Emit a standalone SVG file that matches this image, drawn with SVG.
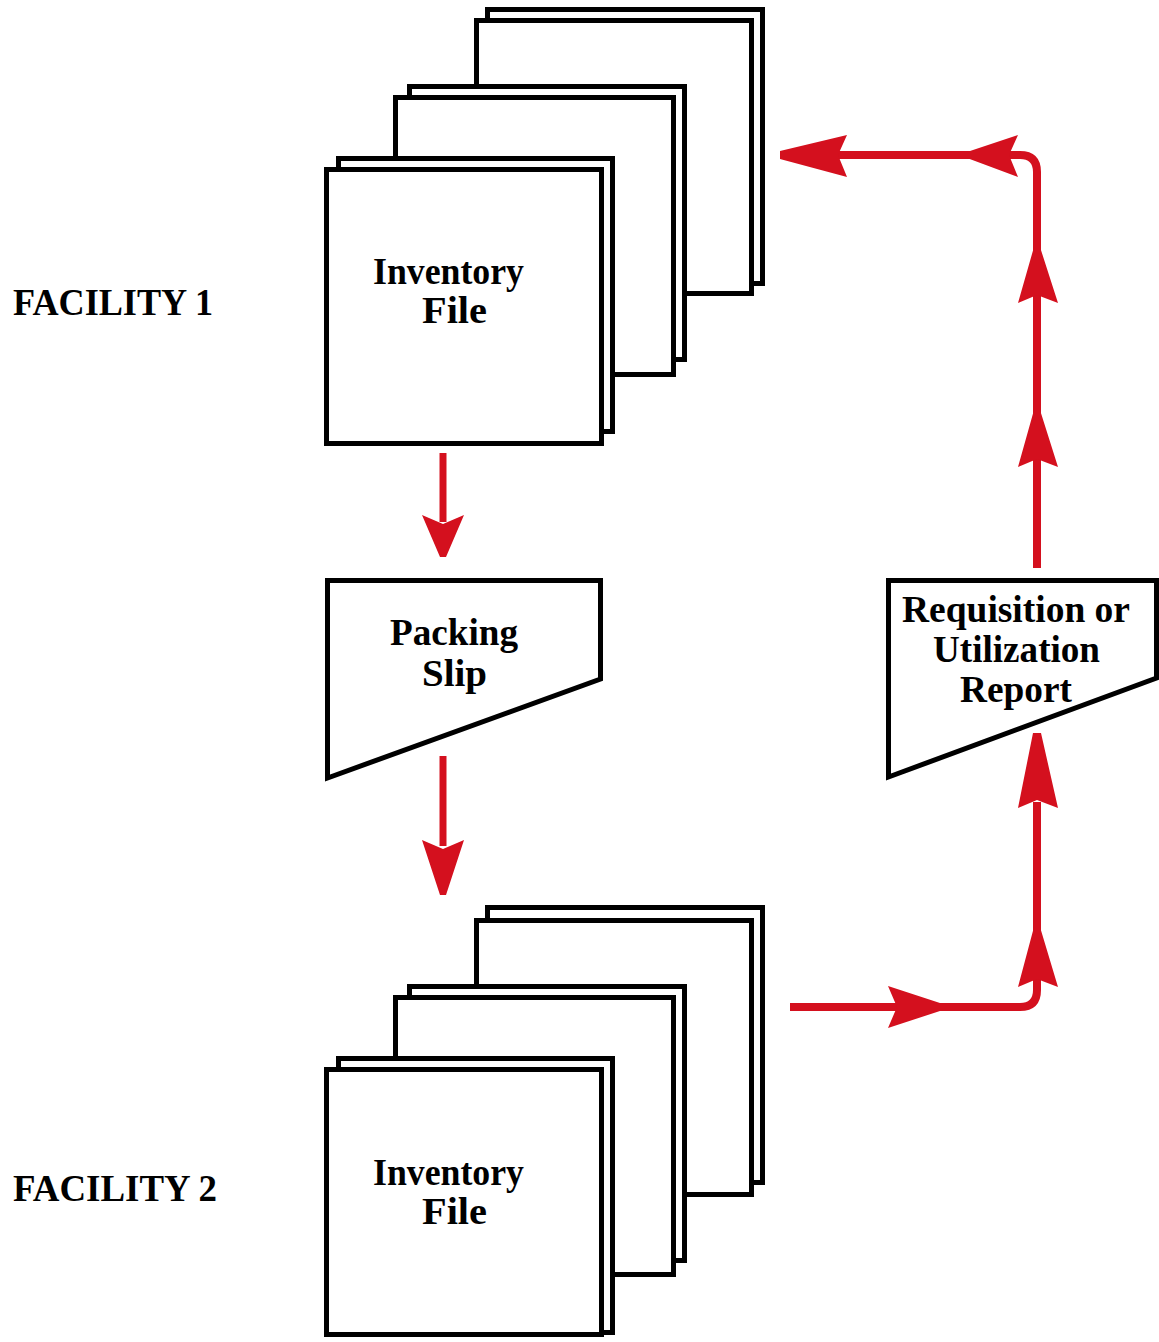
<svg xmlns="http://www.w3.org/2000/svg" width="1159" height="1342" viewBox="0 0 1159 1342">
  <style>
    .sheet { fill: #ffffff; stroke: #000000; stroke-width: 5; stroke-linejoin: miter; }
    .doc { fill: #ffffff; stroke: #000000; stroke-width: 5; stroke-linejoin: miter; }
    .lbl { font-family: "Liberation Serif", "Times New Roman", serif; font-weight: bold; font-size: 38px; fill: #000000; }
    .flow { fill: none; stroke: #d4101e; stroke-width: 8; stroke-linecap: butt; stroke-linejoin: round; }
    .flow-thin { fill: none; stroke: #d4101e; stroke-width: 7; stroke-linecap: butt; }
    .head { fill: #d4101e; stroke: none; }
  </style>

  <rect width="1159" height="1342" fill="#ffffff"/>

  <!-- side labels -->
  <g id="facility-1-label">
    <text class="lbl" x="13" y="315" textLength="200" lengthAdjust="spacingAndGlyphs">FACILITY 1</text>
  </g>
  <g id="facility-2-label">
    <text class="lbl" x="13" y="1201" textLength="204" lengthAdjust="spacingAndGlyphs">FACILITY 2</text>
  </g>

  <!-- Facility 1 inventory file: three stacked double sheets -->
  <g id="inventory-file-1">
    <rect class="sheet" x="487.5" y="9.5" width="275" height="274"/>
    <rect class="sheet" x="476.5" y="20.5" width="275" height="273"/>
    <rect class="sheet" x="409.5" y="86.5" width="275" height="273"/>
    <rect class="sheet" x="395.5" y="97.5" width="278" height="277"/>
    <rect class="sheet" x="338.5" y="158.5" width="274" height="273"/>
    <rect class="sheet" x="326.5" y="169.5" width="275" height="274"/>
    <text class="lbl" x="373" y="284" textLength="151" lengthAdjust="spacingAndGlyphs">Inventory</text>
    <text class="lbl" x="422" y="323" textLength="65" lengthAdjust="spacingAndGlyphs">File</text>
  </g>

  <!-- packing slip document -->
  <g id="packing-slip">
    <polygon class="doc" points="327.5,580.5 600.5,580.5 600.5,679 327.5,778"/>
    <text class="lbl" x="390" y="645" textLength="128" lengthAdjust="spacingAndGlyphs">Packing</text>
    <text class="lbl" x="422" y="686" textLength="65" lengthAdjust="spacingAndGlyphs">Slip</text>
  </g>

  <!-- requisition / utilization report document -->
  <g id="requisition-report">
    <polygon class="doc" points="888.5,580.5 1156.5,580.5 1156.5,678 888.5,777"/>
    <text class="lbl" x="902" y="622" textLength="228" lengthAdjust="spacingAndGlyphs">Requisition or</text>
    <text class="lbl" x="933" y="662" textLength="167" lengthAdjust="spacingAndGlyphs">Utilization</text>
    <text class="lbl" x="960" y="702" textLength="112" lengthAdjust="spacingAndGlyphs">Report</text>
  </g>

  <!-- Facility 2 inventory file -->
  <g id="inventory-file-2">
    <rect class="sheet" x="487.5" y="907.5" width="275" height="275"/>
    <rect class="sheet" x="476.5" y="920.5" width="275" height="274"/>
    <rect class="sheet" x="409.5" y="986.5" width="275" height="274"/>
    <rect class="sheet" x="395.5" y="997.5" width="278" height="277"/>
    <rect class="sheet" x="338.5" y="1058.5" width="274" height="274"/>
    <rect class="sheet" x="326.5" y="1069.5" width="275" height="265"/>
    <text class="lbl" x="373" y="1185" textLength="151" lengthAdjust="spacingAndGlyphs">Inventory</text>
    <text class="lbl" x="422" y="1224" textLength="65" lengthAdjust="spacingAndGlyphs">File</text>
  </g>

  <!-- flow connectors -->
  <g id="connectors">
    <!-- inventory file 1 to packing slip -->
    <line class="flow-thin" x1="443" y1="453" x2="443" y2="522"/>
    <polygon class="head" points="440,557 446,557 464,515 443,524 422,515"/>

    <!-- packing slip to inventory file 2 -->
    <line class="flow-thin" x1="443" y1="756" x2="443" y2="846"/>
    <polygon class="head" points="440,895 446,895 464,840 443,849 422,840"/>

    <!-- inventory file 2 up to the report -->
    <path class="flow" d="M790,1007 H1020 Q1037,1007 1037,990 V802"/>
    <polygon class="head" points="943,1004 943,1010 888,1028 897,1007 888,986"/>
    <polygon class="head" points="1034,927 1040,927 1058,987 1037,979 1018,987"/>
    <polygon class="head" points="1033,733 1041,733 1058,808 1037,800 1018,808"/>

    <!-- report back to inventory file 1 -->
    <path class="flow" d="M1037,568 V172 Q1037,155 1020,155 H786"/>
    <polygon class="head" points="1034,410 1040,410 1058,467 1037,459 1018,467"/>
    <polygon class="head" points="1034,247 1040,247 1058,303 1037,295 1018,303"/>
    <polygon class="head" points="967,152 967,158 1018,177 1009,155 1018,135"/>
    <polygon class="head" points="780,151 780,159 847,177 838,155 847,135"/>
  </g>
</svg>
